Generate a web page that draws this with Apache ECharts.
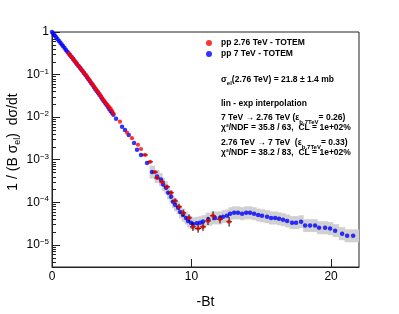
<!DOCTYPE html>
<html><head><meta charset="utf-8">
<script src="https://cdn.jsdelivr.net/npm/echarts@6/dist/echarts.min.js"></script>
<style>html,body{margin:0;padding:0;background:#fff}#c{width:399px;height:314px}</style>
</head><body><div id="c"></div>
<script>
// ---- data ----
const blue7TeV = [
 [0.0,1.0],[0.1,0.908],[0.2,0.824],[0.3,0.748],[0.4,0.679],[0.5,0.617],[0.6,0.560],[0.7,0.508],[0.8,0.461],[0.9,0.419],
 [1.0,0.380],[1.1,0.345],[1.2,0.313],[1.3,0.284],[1.4,0.258],[1.5,0.234],[1.6,0.213],[1.7,0.193],[1.8,0.175],[1.9,0.159],
 [2.0,0.145],[2.1,0.131],[2.2,0.119],[2.3,0.108],[2.4,0.098],[2.5,0.0881],[2.6,0.0791],[2.7,0.0710],[2.8,0.0637],[2.9,0.0572],
 [3.0,0.0513],[3.1,0.0460],[3.2,0.0413],[3.3,0.0371],[3.4,0.0333],[3.5,0.0299],[3.6,0.0268],[3.7,0.0240],[3.8,0.0216],[3.9,0.0194],
 [4.0,0.0174],[4.1,0.0156],[4.2,0.0140],[4.3,0.0126],[4.4,0.0113],
 [4.59,9.1e-3],[5.02,5.9e-3],[5.23,5.0e-3],[5.5,3.8e-3],[5.88,2.45e-3],[6.09,1.7e-3],[6.38,1.29e-3],[6.81,8.3e-4],
 [7.17,5.1e-4],[7.53,4.0e-4],[7.81,3.4e-4],[7.96,2.6e-4],[8.17,2.2e-4],[8.32,1.66e-4],[8.53,1.35e-4],[8.67,1.02e-4],
 [8.82,8.7e-5],[9.03,7.4e-5],[9.18,5.9e-5],[9.39,5.0e-5],[9.61,4.27e-5],[9.75,3.63e-5],[9.96,3.31e-5],[10.1,3.09e-5],
 [10.37,3.2e-5],[10.61,3.3e-5],[10.82,3.5e-5],[11.2,4.0e-5],[11.68,4.27e-5],[12.04,4.27e-5],[12.26,4.57e-5],[12.54,4.79e-5],
 [12.76,5.37e-5],[13.05,5.62e-5],[13.33,5.62e-5],[13.62,5.37e-5],[13.91,5.62e-5],[14.19,5.62e-5],[14.48,5.37e-5],[14.77,5.0e-5],
 [15.05,4.79e-5],[15.41,4.57e-5],[15.7,4.27e-5],[15.99,4.27e-5],[16.27,4.07e-5],[16.56,3.89e-5],[16.85,3.63e-5],[17.2,3.31e-5],
 [17.49,3.31e-5],[17.85,3.47e-5],[18.14,2.82e-5],[18.49,2.82e-5],[18.85,2.82e-5],[19.14,2.51e-5],[19.57,2.51e-5],[19.93,2.4e-5],
 [20.29,2.14e-5],[20.79,1.82e-5],[21.15,1.62e-5],[21.58,1.62e-5]
];
// [x, y, relative y-error] (error only where bars are visible)
const red276TeV = [
 [1.2,0.315],[1.3,0.287],[1.4,0.260],[1.5,0.236],[1.6,0.214],[1.7,0.195],[1.8,0.177],[1.9,0.161],[2.0,0.146],[2.1,0.133],
 [2.2,0.121],[2.3,0.110],[2.4,0.100],[2.5,0.090],[2.6,0.081],[2.7,0.073],[2.8,0.066],[2.9,0.059],[3.0,0.053],[3.1,0.048],
 [3.2,0.043],[3.3,0.039],[3.4,0.035],[3.5,0.031],[3.6,0.028],[3.7,0.025],[3.8,0.0225],[3.9,0.0205],[4.0,0.0190],[4.1,0.0172],
 [4.2,0.0158],[4.3,0.0140],[4.4,0.0122],
 [4.87,7.8e-3],[5.38,4.3e-3],[5.73,3.2e-3],[6.16,2.24e-3],[6.38,1.78e-3],[6.67,1.29e-3,0.05],[7.03,8.9e-4,0.06],
 [7.38,5.1e-4,0.07],[7.53,3.7e-4,0.08],[7.89,3.0e-4,0.10],[8.24,2.3e-4,0.12],[8.53,1.66e-4,0.13],[8.82,1.07e-4,0.15],
 [9.1,7.8e-5,0.17],[9.4,5.6e-5,0.19],[9.82,4.27e-5,0.21],[10.1,2.63e-5,0.24],[10.47,2.40e-5,0.25],[10.82,2.63e-5,0.25],
 [11.18,3.63e-5,0.25],[11.54,4.79e-5,0.27],[12.04,3.98e-5,0.25],[12.69,3.47e-5,0.30]
];
const redXErr = 0.2;
const bandRelErr = 0.42;      // grey uncertainty band around the 7 TeV points
const bandStartX = 7.0;
const xTickLabels = [0, 10, 20];
const yDecades = [-5, -4, -3, -2, -1, 0];
const legendNames = ['pp 2.76 TeV - TOTEM', 'pp 7 TeV - TOTEM'];

// ---- derived helpers ----
const FONT = 'Liberation Sans, Arial, Helvetica, sans-serif';
const bandPts = blue7TeV.filter(p => p[0] >= bandStartX);
const bandData = bandPts.map((p, i) => {
  const prev = bandPts[i - 1], next = bandPts[i + 1];
  const xl = prev ? (prev[0] + p[0]) / 2 : p[0] - (next[0] - p[0]) / 2;
  const xr = next ? (next[0] + p[0]) / 2 : p[0] + 0.45;
  return [p[0], p[1], xl, xr];
});
const minorTicks = [];
for (let e = -6; e <= -1; e++) for (let m = 2; m <= 9; m++) {
  const v = m * Math.pow(10, e);
  if (v >= 3e-6 && v < 1) minorTicks.push([0, v]);
}
const redWithErr = red276TeV.filter(p => p.length > 2);
const subStyle = {fontFamily: FONT, fontWeight: 'bold', fontSize: 6, lineHeight: 6, verticalAlign: 'bottom'};

const chart = echarts.init(document.getElementById('c'), null, {renderer: 'canvas'});
chart.setOption({
  animation: false,
  backgroundColor: '#fff',
  grid: {left: 52, right: 40, top: 32, bottom: 47, show: true, borderColor: '#222', borderWidth: 1, backgroundColor: 'transparent'},
  legend: {
    data: legendNames, orient: 'vertical', left: 206, top: 38, itemWidth: 6, itemHeight: 6, itemGap: 1,
    icon: 'circle', padding: 0,
    textStyle: {fontFamily: FONT, fontWeight: 'bold', fontSize: 8.5, color: '#000', lineHeight: 10, padding: [0, 0, 0, 4]}
  },
  xAxis: {
    type: 'value', min: 0, max: 22, interval: 10,
    name: '-Bt', nameLocation: 'middle', nameGap: 28,
    nameTextStyle: {fontFamily: FONT, fontSize: 14, color: '#000'},
    axisLine: {lineStyle: {color: '#222', width: 1}},
    axisTick: {inside: true, length: 8, lineStyle: {color: '#222'}},
    axisLabel: {fontFamily: FONT, fontSize: 12, color: '#000', margin: 4, showMaxLabel: false,
      formatter: v => (xTickLabels.indexOf(v) >= 0 ? String(v) : '')},
    splitLine: {show: false}
  },
  yAxis: {
    type: 'log', logBase: 10, min: 3e-6, max: 1,
    axisLine: {show: true, lineStyle: {color: '#222', width: 1}},
    axisTick: {inside: true, length: 8, lineStyle: {color: '#222'}},
    axisLabel: {
      fontFamily: FONT, fontSize: 12, color: '#000', margin: 3, lineHeight: 14,
      formatter: v => {
        const l = Math.log10(v), e = Math.round(l);
        if (Math.abs(l - e) > 1e-3 || yDecades.indexOf(e) < 0) return '';
        return e === 0 ? '1' : '10{sup|\u2212' + (-e) + '}';
      },
      rich: {sup: {fontFamily: FONT, fontSize: 8, lineHeight: 8, verticalAlign: 'top', color: '#000'}}
    },
    splitLine: {show: false}
  },
  graphic: [
    {type: 'text', x: 13, y: 142, rotation: Math.PI / 2,
      style: {text: '1 / (B \u03c3{sub|el})  d\u03c3/dt', font: '14px ' + FONT, fill: '#000', align: 'center', verticalAlign: 'middle', lineHeight: 18,
        rich: {sub: {fontFamily: FONT, fontSize: 9, verticalAlign: 'bottom', lineHeight: 9}}}},
    {type: 'text', x: 221, y: 80, style: {text: '\u03c3{sub|el}(2.76 TeV) = 21.8 \u00b1 1.4 mb', font: 'bold 8.5px ' + FONT, fill: '#000', verticalAlign: 'middle', lineHeight: 13,
      rich: {sub: subStyle}}},
    {type: 'text', x: 221, y: 104, style: {text: 'lin - exp interpolation', font: 'bold 8.5px ' + FONT, fill: '#000', verticalAlign: 'middle'}},
    {type: 'text', x: 221, y: 118, style: {text: '7 TeV \u2192 2.76 TeV (\u03b5{sub|b,7TeV}= 0.26)', font: 'bold 8.5px ' + FONT, fill: '#000', verticalAlign: 'middle', lineHeight: 14,
      rich: {sub: subStyle}}},
    {type: 'text', x: 221, y: 127.5, style: {text: '\u03c7\u00b2/NDF = 35.8 / 63,  CL = 1e+02%', font: 'bold 8.5px ' + FONT, fill: '#000', verticalAlign: 'middle'}},
    {type: 'text', x: 221, y: 143, style: {text: '2.76 TeV \u2192 7 TeV  (\u03b5{sub|b,7TeV}= 0.33)', font: 'bold 8.5px ' + FONT, fill: '#000', verticalAlign: 'middle', lineHeight: 14,
      rich: {sub: subStyle}}},
    {type: 'text', x: 221, y: 152.5, style: {text: '\u03c7\u00b2/NDF = 38.2 / 83,  CL = 1e+02%', font: 'bold 8.5px ' + FONT, fill: '#000', verticalAlign: 'middle'}}
  ],
  series: [
    {
      name: 'band', type: 'custom', silent: true, z: 1, data: bandData, clip: true,
      renderItem: (params, api) => {
        const y = api.value(1), xl = api.value(2), xr = api.value(3);
        const p1 = api.coord([xl, y * (1 + bandRelErr)]);
        const p2 = api.coord([xr, y / (1 + bandRelErr)]);
        const cs = params.coordSys;
        const left = Math.max(p1[0], cs.x), right = Math.min(p2[0] + 0.6, cs.x + cs.width);
        return {type: 'rect', shape: {x: left, y: p1[1], width: right - left, height: p2[1] - p1[1]},
          style: {fill: '#d0d0d0'}};
      }
    },
    {
      name: 'minorTicks', type: 'custom', silent: true, z: 3, data: minorTicks,
      renderItem: (params, api) => {
        const p = api.coord([0, api.value(1)]);
        const yy = Math.round(p[1]) + 0.5;
        return {type: 'line', shape: {x1: p[0], y1: yy, x2: p[0] + 4, y2: yy}, style: {stroke: '#222', lineWidth: 1}};
      }
    },
    {
      name: legendNames[1], type: 'scatter', z: 4, data: blue7TeV, symbol: 'circle', symbolSize: 4.5,
      itemStyle: {color: '#0000ff'}, silent: true
    },
    {
      name: 'redErr', type: 'custom', silent: true, z: 5, data: redWithErr,
      renderItem: (params, api) => {
        const x = api.value(0), y = api.value(1), e = api.value(2);
        const c = api.coord([x, y]);
        const top = api.coord([x, y * (1 + e)]), bot = api.coord([x, y / (1 + e)]);
        const l = api.coord([x - redXErr, y]), r = api.coord([x + redXErr, y]);
        return {type: 'group', children: [
          {type: 'line', shape: {x1: c[0], y1: top[1], x2: c[0], y2: bot[1]}, style: {stroke: '#000', lineWidth: 1}},
          {type: 'line', shape: {x1: l[0], y1: c[1], x2: r[0], y2: c[1]}, style: {stroke: '#000', lineWidth: 1}}
        ]};
      }
    },
    {
      name: legendNames[0], type: 'scatter', z: 6, data: red276TeV, symbol: 'circle', symbolSize: 4.2,
      itemStyle: {color: '#ff0000'}, silent: true
    }
  ]
});
</script>
</body></html>
